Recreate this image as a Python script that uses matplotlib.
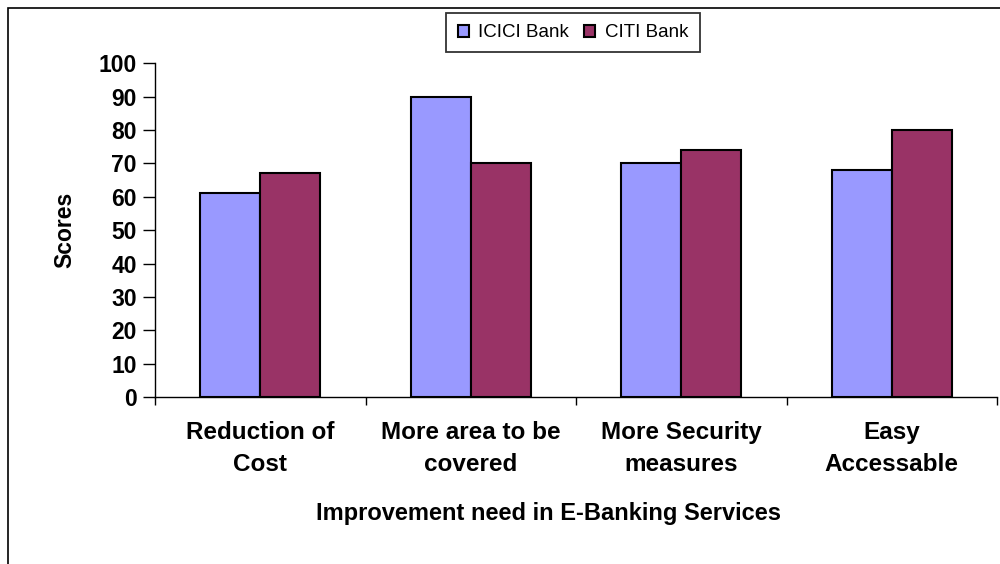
import matplotlib.pyplot as plt
import numpy as np
from matplotlib.patches import Rectangle

plt.rcParams["font.family"] = ["Liberation Sans", "DejaVu Sans"]

categories = ["Reduction of\nCost", "More area to be\ncovered", "More Security\nmeasures", "Easy\nAccessable"]
icici = [61, 90, 70, 68]
citi = [67, 70, 74, 80]
yticks = [0, 10, 20, 30, 40, 50, 60, 70, 80, 90, 100]

fig = plt.figure(figsize=(10, 5.64), dpi=100)
ax = fig.add_axes([0.155, 0.296, 0.842, 0.592])

x = np.arange(len(categories))
w = 0.286
ax.bar(x - w / 2, icici, w, color="#9999ff", edgecolor="black", linewidth=1.5, label="ICICI Bank")
ax.bar(x + w / 2, citi, w, color="#993366", edgecolor="black", linewidth=1.5, label="CITI Bank")

ax.set_xlim(-0.5, len(categories) - 0.5)
ax.set_ylim(0, 100)
ax.set_yticks(yticks)
ax.set_yticklabels([str(v) for v in yticks], fontsize=16.5, fontweight="bold")

# category labels between boundary ticks
ax.set_xticks(np.arange(len(categories) + 1) - 0.5)
ax.set_xticklabels([])
ax.tick_params(axis="x", length=6, width=1, direction="out")
ax.tick_params(axis="y", length=9, width=1, direction="out", pad=4)
for i, c in enumerate(categories):
    ax.text(i, -7.3, c, ha="center", va="top", fontsize=17.5, fontweight="bold",
            linespacing=1.5)

ax.spines["top"].set_visible(False)
ax.spines["right"].set_visible(False)
ax.spines["left"].set_linewidth(1)
ax.spines["bottom"].set_linewidth(1)

ax.set_ylabel("Scores", fontsize=16.5, fontweight="bold")
ax.yaxis.set_label_coords(-0.093, 0.5)
fig.text(0.548, 0.09, "Improvement need in E-Banking Services", ha="center", va="center",
         fontsize=17, fontweight="bold")

leg = ax.legend(loc="center", bbox_to_anchor=(0.573, 0.942), bbox_transform=fig.transFigure,
                ncol=2, frameon=True, fancybox=False, fontsize=13.5, handlelength=0.6,
                handleheight=0.6, handletextpad=0.5, columnspacing=0.8, borderpad=0.6)
leg.get_frame().set_edgecolor("black")
leg.get_frame().set_linewidth(1.3)

# outer chart border
fig.patches.append(Rectangle((0.008, -0.1), 1.1, 1.085, transform=fig.transFigure,
                             fill=False, edgecolor="black", linewidth=1.2))

fig.savefig("out.png", dpi=100)
